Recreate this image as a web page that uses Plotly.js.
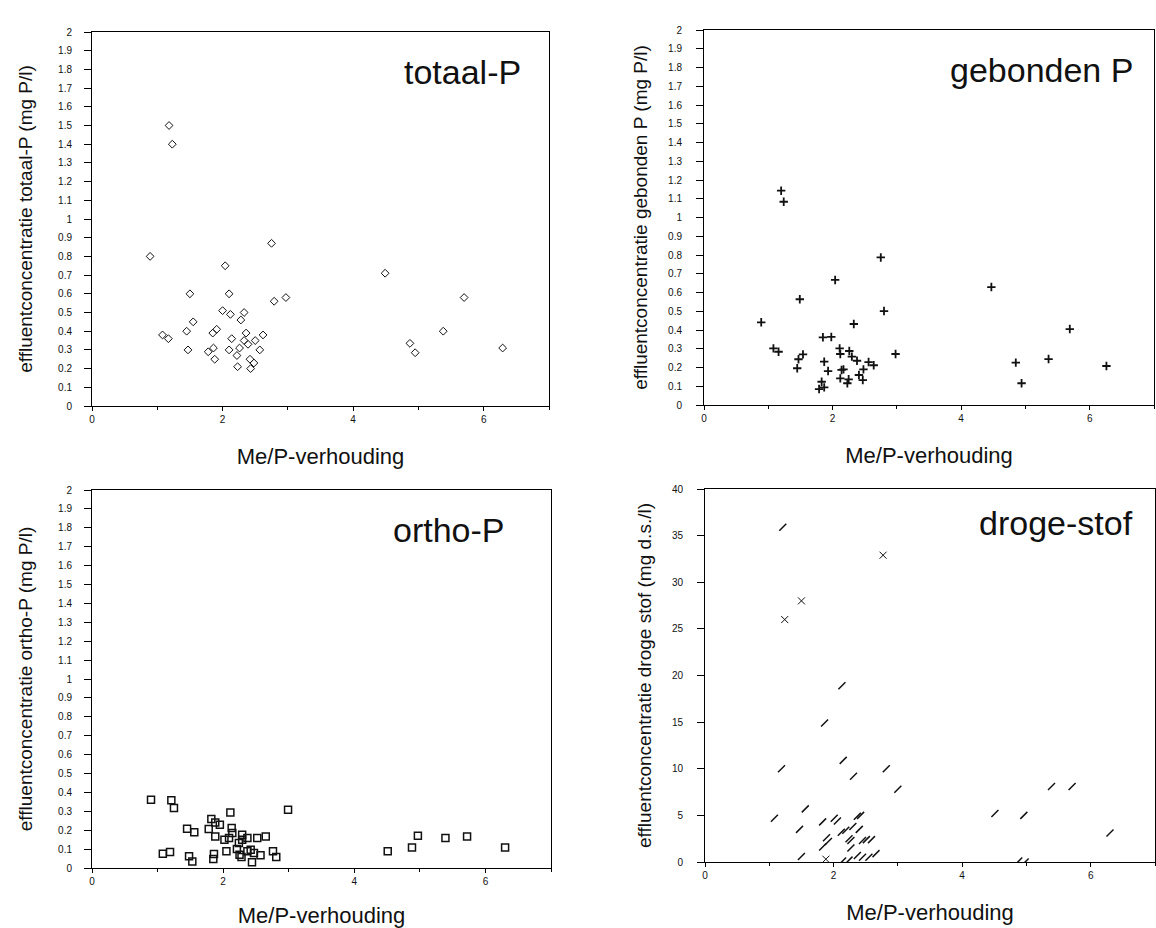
<!DOCTYPE html>
<html>
<head>
<meta charset="utf-8">
<script src="https://cdn.plot.ly/plotly-3.0.1.min.js"></script>
<style>html,body{margin:0;padding:0;background:#fff;}#chart{width:1156px;height:928px;}</style>
</head>
<body>
<div id="chart"></div>
<script>
// ---- data ----
const panelLabels = ["totaal-P", "gebonden P", "ortho-P", "droge-stof"];
const xTitle = "Me/P-verhouding";
const yTitles = [
  "effluentconcentratie totaal-P (mg P/l)",
  "effluentconcentratie gebonden P (mg P/l)",
  "effluentconcentratie ortho-P (mg P/l)",
  "effluentconcentratie droge stof (mg d.s./l)"
];

// totaal-P
const totX = [1.18,1.23,0.89,2.75,2.04,4.49,1.50,2.10,2.97,2.79,5.70,2.00,2.12,2.33,2.28,1.55,1.45,1.08,1.17,1.85,1.91,2.36,2.62,2.14,2.33,2.50,2.39,2.57,1.47,1.86,1.78,2.10,2.26,2.22,1.88,2.42,2.48,2.23,2.43,4.87,4.95,5.38,6.29];
const totY = [1.50,1.40,0.80,0.87,0.75,0.71,0.60,0.60,0.58,0.56,0.58,0.51,0.49,0.50,0.46,0.45,0.40,0.38,0.36,0.39,0.41,0.39,0.38,0.36,0.35,0.35,0.33,0.30,0.30,0.31,0.29,0.30,0.31,0.27,0.25,0.25,0.23,0.21,0.20,0.335,0.285,0.40,0.31];

// gebonden P
const gebX = [1.20,1.24,2.75,2.04,4.47,1.49,2.80,0.89,2.33,5.69,1.85,1.98,1.08,1.16,2.11,2.12,2.26,2.30,2.38,2.98,1.54,1.47,1.87,2.56,2.64,4.85,5.36,6.26,1.45,2.17,1.93,2.48,1.83,2.12,2.25,2.41,2.47,2.23,1.79,1.87,4.94,2.14];
const gebY = [1.143,1.084,0.787,0.667,0.629,0.564,0.501,0.441,0.432,0.405,0.361,0.363,0.302,0.284,0.302,0.272,0.288,0.258,0.236,0.272,0.270,0.244,0.231,0.229,0.212,0.226,0.245,0.208,0.196,0.190,0.181,0.190,0.124,0.142,0.137,0.160,0.133,0.116,0.085,0.094,0.116,0.187];

// ortho-P
const ortX = [0.90,1.21,1.25,2.99,2.11,1.82,1.88,1.95,1.45,1.56,1.78,2.13,2.14,1.88,2.02,2.09,2.29,2.29,2.37,2.52,2.65,4.97,5.39,5.72,6.30,4.88,4.51,1.08,1.19,1.48,1.53,1.86,1.85,2.05,2.21,2.25,2.28,2.37,2.42,2.47,2.57,2.76,2.81,2.44,2.24];
const ortY = [0.361,0.358,0.317,0.308,0.294,0.259,0.241,0.229,0.208,0.189,0.206,0.211,0.185,0.167,0.150,0.159,0.176,0.150,0.159,0.159,0.167,0.171,0.159,0.167,0.109,0.109,0.088,0.076,0.085,0.062,0.035,0.074,0.048,0.088,0.100,0.070,0.058,0.088,0.097,0.079,0.067,0.088,0.058,0.030,0.132];

// droge stof ("/" marks)
const dsX = [1.21,2.13,1.86,2.15,1.19,2.82,2.31,3.00,5.39,5.71,1.56,1.08,4.51,4.96,6.30,1.47,1.83,2.01,2.06,2.37,2.42,2.30,2.40,2.12,2.19,1.89,1.92,1.83,2.24,2.27,2.45,2.51,2.59,2.27,1.50,2.37,2.45,2.55,2.66,2.14,2.24,4.88,4.98];
const dsY = [35.9,18.9,14.9,10.9,10.0,10.0,9.2,7.8,8.1,8.1,5.7,4.7,5.2,5.0,3.1,3.5,4.3,4.7,4.4,4.9,5.0,3.8,3.5,3.2,3.4,2.6,2.2,1.6,2.5,2.3,2.3,2.4,2.4,1.5,0.6,0.7,0.5,0.5,0.9,0.1,0.2,0.1,0.0];
// droge stof ("x" marks)
const dsXcrossX = [2.77,1.50,1.24,1.88];
const dsXcrossY = [32.9,28.0,26.0,0.3];

// ---- layout helpers ----
const FONT = "Liberation Sans, Arial, sans-serif";
const tickFont = {family: FONT, size: 10, color: "#111"};

function xAxis(domain, anchor) {
  return {
    domain: domain, anchor: anchor, range: [0, 7],
    tickmode: "linear", tick0: 0, dtick: 2,
    ticks: "outside", ticklen: 4, tickwidth: 1, tickcolor: "#000",
    minor: {dtick: 1, ticks: "outside", ticklen: 3, tickcolor: "#000"},
    showline: true, linecolor: "#000", linewidth: 1, mirror: true,
    showgrid: false, zeroline: false, tickfont: tickFont,
    title: {text: xTitle, font: {family: FONT, size: 22, color: "#111"}, standoff: 24},
    fixedrange: true
  };
}
function yAxis(domain, anchor, range, dtick, title, labelGap, titleGap) {
  return {
    domain: domain, anchor: anchor, range: range,
    tickmode: "linear", tick0: 0, dtick: dtick,
    ticks: "outside", ticklen: 7, tickwidth: 1, tickcolor: "#000",
    ticklabelstandoff: labelGap,
    showline: true, linecolor: "#000", linewidth: 1, mirror: true,
    showgrid: false, zeroline: false, tickfont: tickFont,
    title: {text: title, font: {family: FONT, size: 19, color: "#111"}, standoff: titleGap},
    fixedrange: true
  };
}

const mk = (x, y, xa, ya, marker) => ({
  type: "scatter", mode: "markers", x: x, y: y, xaxis: xa, yaxis: ya,
  marker: marker, hoverinfo: "x+y", showlegend: false
});

const data = [
  mk(totX, totY, "x", "y", {symbol: "diamond-open", size: 6, color: "#111", line: {width: 1, color: "#111"}}),
  mk(gebX, gebY, "x2", "y2", {symbol: "cross-thin-open", size: 6, color: "#111", line: {width: 1.8, color: "#111"}}),
  mk(ortX, ortY, "x3", "y3", {symbol: "square-open", size: 7, color: "#111", line: {width: 1.5, color: "#111"}}),
  mk(dsX, dsY, "x4", "y4", {symbol: "line-ne-open", size: 7, color: "#111", line: {width: 1.5, color: "#111"}}),
  mk(dsXcrossX, dsXcrossY, "x4", "y4", {symbol: "x-thin-open", size: 7, color: "#111", line: {width: 1, color: "#111"}})
];

const W = 1156, H = 928;
const px = (a, b) => [a / W, b / W];
const py = (top, bottom) => [1 - bottom / H, 1 - top / H];

const layout = {
  width: W, height: H,
  margin: {l: 0, r: 0, t: 0, b: 0},
  paper_bgcolor: "#fff", plot_bgcolor: "#fff",
  showlegend: false,
  xaxis: xAxis(px(92, 549), "y"),
  yaxis: yAxis(py(32, 406), "x", [0, 2], 0.1, yTitles[0], 10, 20),
  xaxis2: xAxis(px(704, 1154), "y2"),
  yaxis2: yAxis(py(30, 405), "x2", [0, 2], 0.1, yTitles[1], 12, 15),
  xaxis3: xAxis(px(92, 551), "y3"),
  yaxis3: yAxis(py(490, 868), "x3", [0, 2], 0.1, yTitles[2], 10, 20),
  xaxis4: xAxis(px(705, 1155), "y4"),
  yaxis4: yAxis(py(489, 862), "x4", [0, 40], 5, yTitles[3], 12, 15),
  annotations: [
    {text: panelLabels[0], xref: "paper", yref: "paper", x: 523 / W, y: 1 - 72 / H, xanchor: "right", yanchor: "middle", showarrow: false, font: {family: FONT, size: 34, color: "#111"}},
    {text: panelLabels[1], xref: "paper", yref: "paper", x: 1135 / W, y: 1 - 70 / H, xanchor: "right", yanchor: "middle", showarrow: false, font: {family: FONT, size: 34, color: "#111"}},
    {text: panelLabels[2], xref: "paper", yref: "paper", x: 507 / W, y: 1 - 530 / H, xanchor: "right", yanchor: "middle", showarrow: false, font: {family: FONT, size: 34, color: "#111"}},
    {text: panelLabels[3], xref: "paper", yref: "paper", x: 1135 / W, y: 1 - 523 / H, xanchor: "right", yanchor: "middle", showarrow: false, font: {family: FONT, size: 34, color: "#111"}}
  ]
};

Plotly.newPlot("chart", data, layout, {displayModeBar: false, staticPlot: true});
</script>
</body>
</html>
